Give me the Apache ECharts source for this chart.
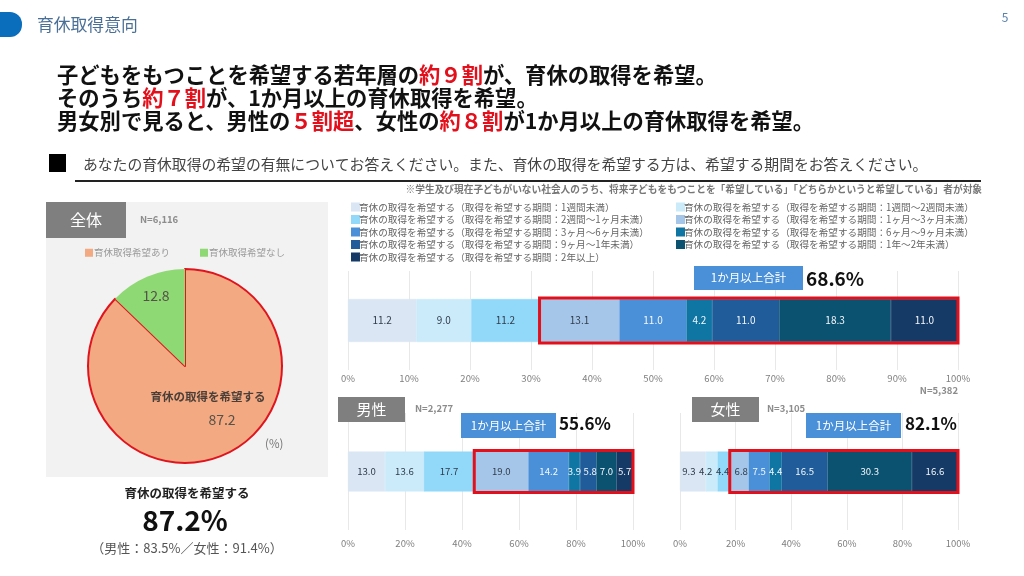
<!DOCTYPE html>
<html><head><meta charset="utf-8">
<style>html,body{margin:0;padding:0;background:#fff}#c{width:1024px;height:576px}</style>
<script src="https://cdn.jsdelivr.net/npm/echarts@6/dist/echarts.min.js"></script>
</head><body><div id="c"></div>
<script>
const FONT='"Noto Sans CJK JP","Noto Sans",sans-serif';
const periodNames=[
'育休の取得を希望する（取得を希望する期間：1週間未満）',
'育休の取得を希望する（取得を希望する期間：1週間～2週間未満）',
'育休の取得を希望する（取得を希望する期間：2週間～1ヶ月未満）',
'育休の取得を希望する（取得を希望する期間：1ヶ月～3ヶ月未満）',
'育休の取得を希望する（取得を希望する期間：3ヶ月～6ヶ月未満）',
'育休の取得を希望する（取得を希望する期間：6ヶ月～9ヶ月未満）',
'育休の取得を希望する（取得を希望する期間：9ヶ月～1年未満）',
'育休の取得を希望する（取得を希望する期間：1年～2年未満）',
'育休の取得を希望する（取得を希望する期間：2年以上）'];
const overallValues=[11.2,9.0,11.2,13.1,11.0,4.2,11.0,18.3,11.0];
const maleValues=[13.0,13.6,17.7,19.0,14.2,3.9,5.8,7.0,5.7];
const femaleValues=[9.3,4.2,4.4,6.8,7.5,4.4,16.5,30.3,16.6];
const barColors=['#DAE6F4','#CBEBFA','#92D8F8','#A5C6E9','#4A90D9','#0F75A3','#1F5C99','#0B5170','#163A66'];
const pieNames=['育休取得希望あり','育休取得希望なし'];
const pieValues=[87.2,12.8];
const pieColors=['#F3A982','#8ED973'];
const oneMonthStartIndex=3;

const grids=[
 {left:348,width:610,top:271,height:99,values:overallValues,interval:10,barW:43,frameW:45,margin:4,nudge:{},labelSize:10},
 {left:348,width:285,top:413,height:117,values:maleValues,interval:20,barW:40,frameW:42,margin:9,nudge:{6:2},labelSize:9.6},
 {left:680,width:278,top:413,height:117,values:femaleValues,interval:20,barW:40,frameW:42,margin:9,nudge:{0:-4,1:-6,2:-1,3:2},labelSize:9.6}];

const series=[];
grids.forEach((g,gi)=>{
 g.values.forEach((v,i)=>{
  series.push({type:'bar',name:periodNames[i],stack:'s'+gi,xAxisIndex:gi,yAxisIndex:gi,barWidth:g.barW,
   itemStyle:{color:barColors[i],borderColor:barColors[i],borderWidth:0.5},data:[v],
   label:{show:true,position:'inside',offset:[g.nudge[i]||0,0],fontFamily:FONT,fontSize:g.labelSize,color:i<4?'#2F3B4A':'#F4F8FC',
     formatter:p=>p.value.toFixed(1)},
   emphasis:{disabled:true}});
 });
 const start=g.values.slice(0,oneMonthStartIndex).reduce((a,b)=>a+b,0);
 series.push({type:'custom',xAxisIndex:gi,yAxisIndex:gi,z:5,silent:true,data:[[start,100,0]],
  encode:{x:[0,1],y:2},
  renderItem:(p,api)=>{
   const a=api.coord([api.value(0),0]),b=api.coord([api.value(1),0]);
   return {type:'rect',shape:{x:a[0],y:a[1]-g.frameW/2,width:b[0]-a[0],height:g.frameW},
     style:{fill:null,stroke:'#E3101C',lineWidth:3}};
  }});
});
series.push({type:'pie',center:[185,366],radius:[0,97],startAngle:90,clockwise:true,silent:true,
 data:pieNames.map((n,i)=>({name:n,value:pieValues[i],
   itemStyle:{color:pieColors[i],borderColor:i==0?'#E0141E':'transparent',borderWidth:i==0?2:0}})),
 label:{show:true,position:'inside',fontFamily:FONT,fontSize:14,formatter:p=>p.value.toFixed(1),color:'#55524a'},
 labelLine:{show:false},
 labelLayout:p=>p.dataIndex==0?{x:222,y:420,align:'center',verticalAlign:'middle'}:{x:156,y:296,align:'center',verticalAlign:'middle'}
});

const T=(x,y,text,o={})=>({type:'text',z:o.z||50,x,y,style:Object.assign({text,fontFamily:FONT,fontSize:o.size||10,fill:o.fill||'#333',
  fontWeight:o.weight||'normal',textAlign:o.align||'left',textVerticalAlign:'middle'},o.rich?{rich:o.rich}:{})});
const R=(x,y,w,h,fill,z,r)=>({type:'rect',z:z||1,shape:{x,y,width:w,height:h,r:r||0},style:{fill}});
const hr=(c)=>({fontFamily:FONT,fontSize:21.3,fontWeight:'bold',fill:c,lineHeight:24});
const headRich={k:hr('#111'),r:hr('#E3101C')};
const gridLegend=(left,names)=>({type:'plain',orient:'vertical',left,top:202,itemWidth:7,itemHeight:7,itemGap:2.5,padding:0,
 icon:'rect',selectedMode:false,data:names,textStyle:{fontFamily:FONT,fontSize:9.65,color:'#666',padding:[0,0,0,-5],lineHeight:10}});

const option={animation:false,backgroundColor:'#fff',
 grid:grids.map(g=>({left:g.left,width:g.width,top:g.top,height:g.height,containLabel:false})),
 xAxis:grids.map(g=>({type:'value',gridIndex:grids.indexOf(g),min:0,max:100,interval:g.interval,
   axisLine:{show:false},axisTick:{show:false},splitLine:{show:true,lineStyle:{color:'#E8E8E8',width:1}},
   axisLabel:{formatter:'{value}%',fontFamily:FONT,fontSize:9.5,color:'#7F7F7F',margin:g.margin}})),
 yAxis:grids.map((g,i)=>({type:'category',gridIndex:i,data:['全体'],show:false})),
 legend:[
  gridLegend(351,periodNames.filter((n,i)=>i%2==0)),
  gridLegend(676,periodNames.filter((n,i)=>i%2==1)),
  {type:'plain',orient:'horizontal',left:85,top:248,itemWidth:8,itemHeight:8,itemGap:30,padding:0,icon:'rect',selectedMode:false,
   itemStyle:{borderWidth:0},
   data:pieNames,textStyle:{fontFamily:FONT,fontSize:9.5,color:'#999',padding:[0,0,0,-4]}}
 ],
 graphic:{elements:[
  R(46,202,282,275,'#F2F2F2',0),
  {type:'rect',z:1,shape:{x:-12,y:12,width:34,height:25,r:12},style:{fill:'#0A6EBD'}},
  T(37,25,'育休取得意向',{size:16.8,fill:'#4A6F96'}),
  T(1005,17,'5',{size:12,fill:'#5B83AD',align:'center'}),
  T(57,75,'{k|子どもをもつことを希望する若年層の}{r|約９割}{k|が、育休の取得を希望。}',{rich:headRich}),
  T(57,98,'{k|そのうち}{r|約７割}{k|が、1か月以上の育休取得を希望。}',{rich:headRich}),
  T(57,121,'{k|男女別で見ると、男性の}{r|５割超}{k|、女性の}{r|約８割}{k|が1か月以上の育休取得を希望。}',{rich:headRich}),
  R(49,154,17,18,'#000',1),
  T(83,164,'あなたの育休取得の希望の有無についてお答えください。また、育休の取得を希望する方は、希望する期間をお答えください。',{size:14.82,fill:'#444'}),
  R(75,180,906,2,'#222',1),
  T(982,189,'※学生及び現在子どもがいない社会人のうち、将来子どもをもつことを「希望している」「どちらかというと希望している」者が対象',{size:9.7,fill:'#777',align:'right',weight:'bold'}),
  R(46,202,80,36,'#7F7F7F',3),
  T(86,220,'全体',{size:16,fill:'#fff',align:'center'}),
  T(140,219,'N=6,116',{size:9.5,fill:'#8c8c8c',weight:'bold'}),
  T(208,397,'育休の取得を希望する',{size:11.5,fill:'#4A3F38',align:'center',weight:'bold'}),
  T(265,444,'(%)',{size:11.5,fill:'#777'}),
  T(187,493,'育休の取得を希望する',{size:12.5,fill:'#222',align:'center',weight:'bold'}),
  T(185,520,'87.2%',{size:28,fill:'#111',align:'center',weight:'bold'}),
  T(187,548,'（男性：83.5%／女性：91.4%）',{size:13,fill:'#555',align:'center'}),
  R(694,266,109,24,'#4A90D9',8),
  T(748.5,278,'1か月以上合計',{size:11.5,fill:'#fff',align:'center'}),
  T(806,279,'68.6%',{size:19,fill:'#111',weight:'bold'}),
  T(958,390,'N=5,382',{size:9.5,fill:'#8c8c8c',align:'right',weight:'bold'}),
  R(338,397,67,25,'#7F7F7F',8),
  T(371.5,409.5,'男性',{size:15,fill:'#fff',align:'center'}),
  T(415,408,'N=2,277',{size:9.5,fill:'#8c8c8c',weight:'bold'}),
  R(461,413,95,25,'#4A90D9',8),
  T(508.5,425.5,'1か月以上合計',{size:11.5,fill:'#fff',align:'center'}),
  T(559,424,'55.6%',{size:17,fill:'#111',weight:'bold'}),
  R(692,397,67,25,'#7F7F7F',8),
  T(725.5,409.5,'女性',{size:15,fill:'#fff',align:'center'}),
  T(767,408,'N=3,105',{size:9.5,fill:'#8c8c8c',weight:'bold'}),
  R(806,413,95,25,'#4A90D9',8),
  T(853.5,425.5,'1か月以上合計',{size:11.5,fill:'#fff',align:'center'}),
  T(905,424,'82.1%',{size:17,fill:'#111',weight:'bold'})
 ]},
 series
};
const chart=echarts.init(document.getElementById('c'),null,{renderer:'canvas',width:1024,height:576});
chart.setOption(option);
</script></body></html>
